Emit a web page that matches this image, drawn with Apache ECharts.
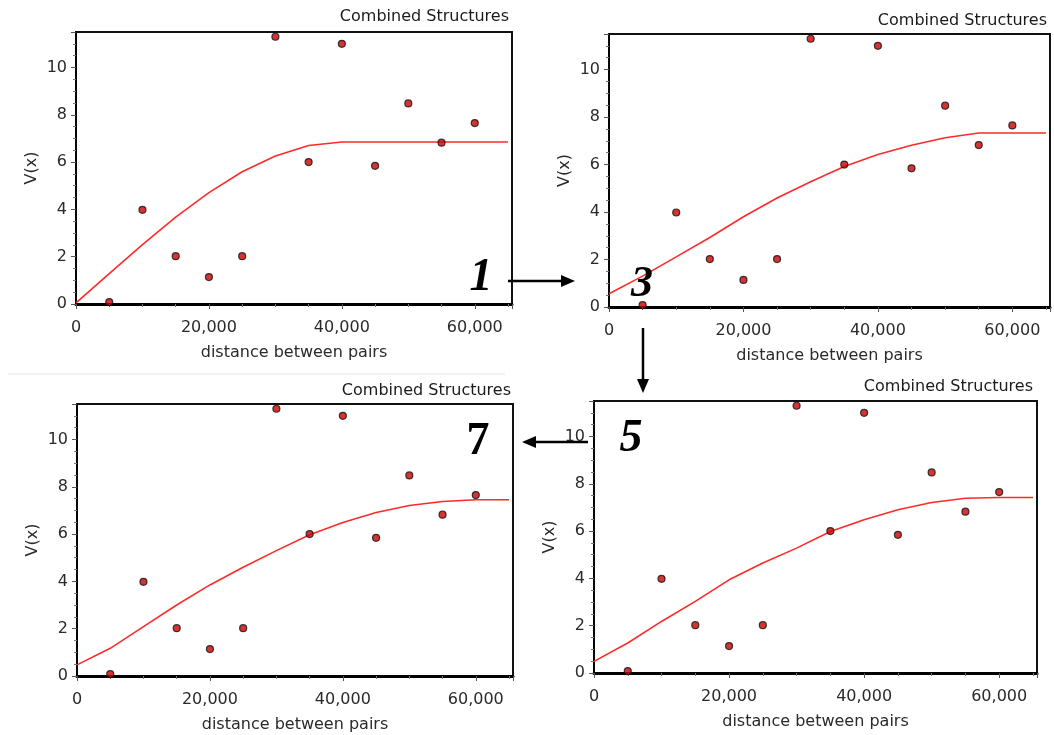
<!DOCTYPE html>
<html>
<head>
<meta charset="utf-8">
<script src="https://cdn.jsdelivr.net/npm/echarts@6/dist/echarts.min.js"></script>
<style>
html,body{margin:0;padding:0;background:#fff;}
#chart{width:1054px;height:735px;}
</style>
</head>
<body>
<div id="chart"></div>
<script>
// ---- data ----
const panelTitle = 'Combined Structures';
const xAxisName = 'distance between pairs';
const yAxisName = 'V(x)';
const stepLabels = ['1', '3', '5', '7'];

// experimental semivariogram points (same in all panels)
const distances = [5000, 10000, 15000, 20000, 25000, 30000, 35000, 40000, 45000, 50000, 55000, 60000];
const semivariance = [0.08, 3.98, 2.02, 1.14, 2.02, 11.3, 6.0, 11.0, 5.84, 8.48, 6.82, 7.65];

// fitted model curves, sampled every 5,000
const curveDist = [0, 5000, 10000, 15000, 20000, 25000, 30000, 35000, 40000, 45000, 50000, 55000, 60000, 65000];
const curveStep1 = [0.05, 1.28, 2.51, 3.67, 4.71, 5.59, 6.26, 6.70, 6.85, 6.85, 6.85, 6.85, 6.85, 6.85];
const curveStep3 = [0.56, 1.30, 2.11, 2.93, 3.80, 4.59, 5.28, 5.92, 6.42, 6.81, 7.13, 7.33, 7.33, 7.33];
const curveStep5 = [0.49, 1.27, 2.18, 3.03, 3.94, 4.65, 5.28, 5.98, 6.48, 6.90, 7.21, 7.39, 7.42, 7.42];
const curveStep7 = [0.47, 1.17, 2.09, 3.00, 3.85, 4.60, 5.30, 5.97, 6.49, 6.91, 7.21, 7.38, 7.45, 7.45];

// ---- layout ----
const panels = [
  {grid: {left: 76, top: 32, width: 436, height: 272}, curve: curveStep1, titleRight: 545, titleTop: 9},
  {grid: {left: 609, top: 34, width: 441, height: 273}, curve: curveStep3, titleRight: 7, titleTop: 13},
  {grid: {left: 594, top: 401, width: 443, height: 272}, curve: curveStep5, titleRight: 21, titleTop: 379},
  {grid: {left: 77, top: 404, width: 436, height: 272}, curve: curveStep7, titleRight: 543, titleTop: 383}
];

const FONT = '"DejaVu Sans", Verdana, sans-serif';
const zip = (xs, ys) => xs.map((x, i) => [x, ys[i]]);

const option = {
  animation: false,
  backgroundColor: '#fff',
  title: panels.map(p => ({
    text: panelTitle,
    right: p.titleRight,
    top: p.titleTop,
    padding: 0,
    textStyle: {fontFamily: FONT, fontSize: 16, fontWeight: 'normal', color: '#1a1a1a'}
  })),
  grid: panels.map(p => Object.assign({show: true, borderColor: '#111', borderWidth: 2, backgroundColor: '#fff'}, p.grid)),
  xAxis: panels.map((p, i) => ({
    gridIndex: i, type: 'value', min: 0, max: 65600, interval: 20000,
    name: xAxisName, nameLocation: 'middle', nameGap: 41,
    nameTextStyle: {fontFamily: FONT, fontSize: 16, color: '#2a2a2a'},
    axisLine: {show: true, onZero: false, lineStyle: {color: '#000', width: 3}},
    axisTick: {show: true, length: 5, lineStyle: {color: '#555', width: 1}},
    minorTick: {show: true, splitNumber: 4, length: 3, lineStyle: {color: '#777'}},
    splitLine: {show: false},
    axisLabel: {fontFamily: FONT, fontSize: 16, color: '#2a2a2a', margin: 16, showMaxLabel: false,
      formatter: v => v.toLocaleString('en-US')}
  })),
  yAxis: panels.map((p, i) => ({
    gridIndex: i, type: 'value', min: 0, max: 11.5, interval: 2,
    name: yAxisName, nameLocation: 'middle', nameGap: 36, nameRotate: 90,
    nameTextStyle: {fontFamily: FONT, fontSize: 16, color: '#2a2a2a'},
    axisLine: {show: true, onZero: false, lineStyle: {color: '#000', width: 1.5}},
    axisTick: {show: true, length: 5, lineStyle: {color: '#555', width: 1}},
    minorTick: {show: true, splitNumber: 4, length: 3, lineStyle: {color: '#777'}},
    splitLine: {show: false},
    axisLabel: {fontFamily: FONT, fontSize: 16, color: '#2a2a2a', margin: 9, showMaxLabel: false}
  })),
  series: panels.flatMap((p, i) => [
    {
      type: 'line', xAxisIndex: i, yAxisIndex: i, data: zip(curveDist, p.curve),
      showSymbol: false, symbol: 'none', lineStyle: {color: '#ff2a2a', width: 1.6}, z: 2
    },
    {
      type: 'scatter', xAxisIndex: i, yAxisIndex: i, data: zip(distances, semivariance),
      symbol: 'circle', symbolSize: 7,
      itemStyle: {color: '#cc0000', borderColor: '#111', borderWidth: 1.2}, z: 3
    }
  ]),
  graphic: [
    // faint separator above lower-left panel
    {type: 'line', shape: {x1: 8, y1: 374, x2: 505, y2: 374}, style: {stroke: '#e4e4e4', lineWidth: 1}, z: 100},
    // step labels
    {type: 'text', x: 481, y: 278, style: {text: stepLabels[0], font: 'italic bold 46px "Liberation Serif", serif', fill: '#000', textAlign: 'center', textVerticalAlign: 'middle'}, z: 100},
    {type: 'text', x: 642, y: 285, style: {text: stepLabels[1], font: 'italic bold 44px "Liberation Serif", serif', fill: '#000', textAlign: 'center', textVerticalAlign: 'middle'}, z: 100},
    {type: 'text', x: 631, y: 439, style: {text: stepLabels[2], font: 'italic bold 46px "Liberation Serif", serif', fill: '#000', textAlign: 'center', textVerticalAlign: 'middle'}, z: 100},
    {type: 'text', x: 478, y: 442, style: {text: stepLabels[3], font: 'bold 46px "Liberation Serif", serif', fill: '#000', textAlign: 'center', textVerticalAlign: 'middle'}, z: 100},
    // arrow 1 -> 3
    {type: 'line', shape: {x1: 508, y1: 281, x2: 563, y2: 281}, style: {stroke: '#000', lineWidth: 2.5}, z: 100},
    {type: 'polygon', shape: {points: [[575, 281], [561, 275], [561, 287]]}, style: {fill: '#000'}, z: 100},
    // arrow 3 -> 5
    {type: 'line', shape: {x1: 643, y1: 328, x2: 643, y2: 381}, style: {stroke: '#000', lineWidth: 2.5}, z: 100},
    {type: 'polygon', shape: {points: [[643, 393], [637, 379], [649, 379]]}, style: {fill: '#000'}, z: 100},
    // arrow 5 -> 7
    {type: 'line', shape: {x1: 588, y1: 442, x2: 534, y2: 442}, style: {stroke: '#000', lineWidth: 2.5}, z: 100},
    {type: 'polygon', shape: {points: [[522, 442], [536, 436], [536, 448]]}, style: {fill: '#000'}, z: 100}
  ]
};

const chart = echarts.init(document.getElementById('chart'), null, {renderer: 'canvas'});
chart.setOption(option);
</script>
</body>
</html>
